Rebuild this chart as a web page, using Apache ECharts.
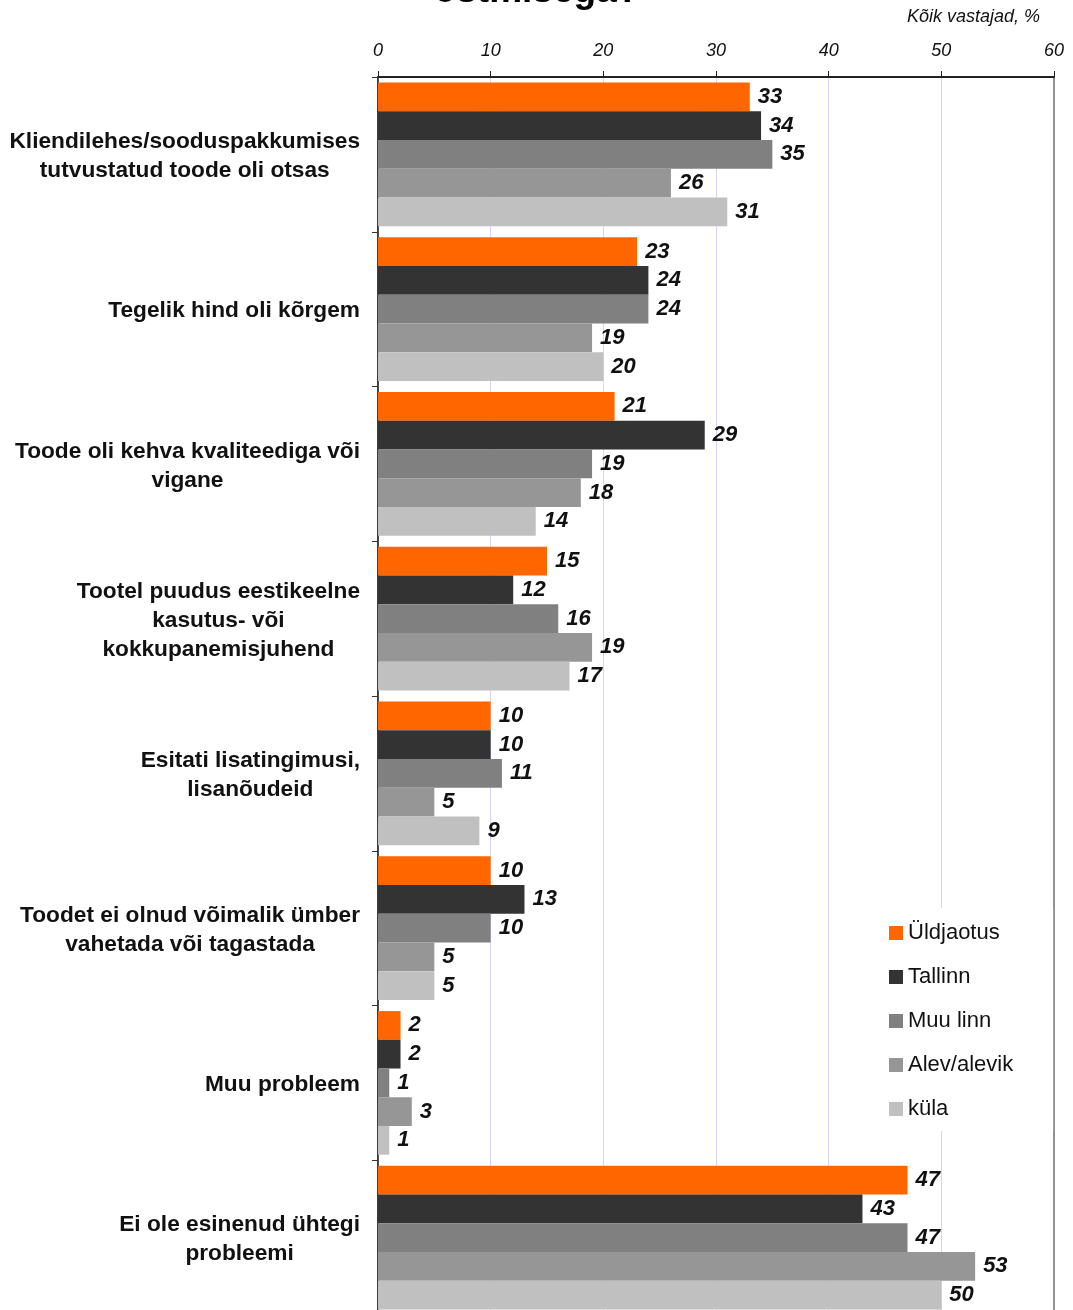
<!DOCTYPE html>
<html>
<head>
<meta charset="utf-8">
<title>Probleemid sooduspakkumiste ostmisega</title>
<script src="https://cdn.jsdelivr.net/npm/echarts@6/dist/echarts.min.js"></script>
<style>
  html, body { margin: 0; padding: 0; background: #ffffff; overflow: hidden; }
  #chart { width: 1073px; height: 1320px; }
</style>
</head>
<body>
<div id="chart"></div>
<script>
// Problem categories (top to bottom)
const categories = [
  'Kliendilehes/sooduspakkumises\ntutvustatud toode oli otsas',
  'Tegelik hind oli kõrgem',
  'Toode oli kehva kvaliteediga või\nvigane',
  'Tootel puudus eestikeelne\nkasutus- või\nkokkupanemisjuhend',
  'Esitati lisatingimusi,\nlisanõudeid',
  'Toodet ei olnud võimalik ümber\nvahetada või tagastada',
  'Muu probleem',
  'Ei ole esinenud ühtegi\nprobleemi'
];

// Share of respondents, %
const seriesNames = ['Üldjaotus', 'Tallinn', 'Muu linn', 'Alev/alevik', 'küla'];
const uldjaotus  = [33, 23, 21, 15, 10, 10, 2, 47];
const tallinn    = [34, 24, 29, 12, 10, 13, 2, 43];
const muuLinn    = [35, 24, 19, 16, 11, 10, 1, 47];
const alevAlevik = [26, 19, 18, 19, 5, 5, 3, 53];
const kula       = [31, 20, 14, 17, 9, 5, 1, 50];
const seriesValues = [uldjaotus, tallinn, muuLinn, alevAlevik, kula];
const seriesColors = ['#ff6600', '#333333', '#808080', '#969696', '#c0c0c0'];

const xTicks = { min: 0, max: 60, interval: 10 };

const chart = echarts.init(document.getElementById('chart'), null, { renderer: 'canvas' });

const option = {
  backgroundColor: '#ffffff',
  animation: false,
  textStyle: { fontFamily: 'Liberation Sans, Arial, sans-serif' },
  title: [
    {
      text: 'ostmisega?',
      left: 'center',
      top: -32,
      textStyle: { fontSize: 37, fontWeight: 'bold', color: '#000' }
    },
    {
      text: 'Kõik vastajad, %',
      right: 28,
      top: 3,
      textStyle: { fontSize: 18, fontStyle: 'italic', fontWeight: 'normal', color: '#111' }
    }
  ],
  legend: {
    orient: 'vertical',
    left: 879,
    top: 908,
    padding: [14, 40, 11, 10],
    backgroundColor: '#ffffff',
    itemWidth: 14,
    itemHeight: 14,
    itemGap: 22,
    icon: 'rect',
    textStyle: { fontSize: 22, color: '#111' },
    data: seriesNames
  },
  grid: {
    left: 378,
    right: 19,
    top: 77,
    bottom: 5,
    show: true,
    borderColor: '#6e6e6e',
    borderWidth: 1.5,
    containLabel: false
  },
  xAxis: {
    type: 'value',
    position: 'top',
    min: xTicks.min,
    max: xTicks.max,
    interval: xTicks.interval,
    axisLine: { show: true, lineStyle: { color: '#222', width: 2 } },
    axisTick: { show: true, length: 6, lineStyle: { color: '#222' } },
    axisLabel: { margin: 17, fontSize: 18, fontStyle: 'italic', color: '#111' },
    splitLine: { show: true, showMaxLine: false, lineStyle: { color: '#d4d4f8', width: 1 } }
  },
  yAxis: {
    type: 'category',
    inverse: true,
    data: categories,
    axisLine: { show: true, onZero: false, lineStyle: { color: '#222', width: 1.5 } },
    axisTick: { show: true, length: 6, lineStyle: { color: '#333' } },
    axisLabel: {
      margin: 18,
      fontSize: 22.7,
      fontWeight: 'bold',
      color: '#111',
      lineHeight: 29,
      padding: [4, 0, 0, 0],
      formatter: function (val) {
        return val.split('\n').map(function (s) { return '{c|' + s + '}'; }).join('\n');
      },
      rich: {
        c: { align: 'center', fontSize: 22.7, fontWeight: 'bold', color: '#111', lineHeight: 29 }
      }
    }
  },
  series: seriesNames.map(function (name, i) {
    return {
      name: name,
      type: 'bar',
      data: seriesValues[i],
      barGap: '0%',
      barCategoryGap: '7.2%',
      itemStyle: { color: seriesColors[i] },
      label: {
        show: true,
        position: 'right',
        distance: 8,
        fontSize: 22,
        fontWeight: 'bold',
        fontStyle: 'italic',
        color: '#111'
      }
    };
  })
};

chart.setOption(option);
</script>
</body>
</html>
